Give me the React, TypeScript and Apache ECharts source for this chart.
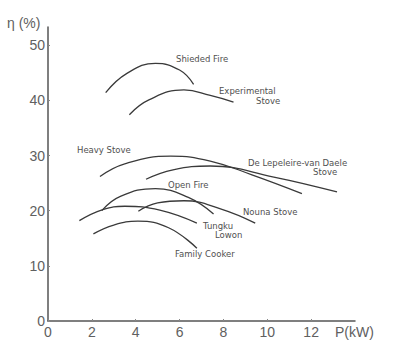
import React, { useEffect, useRef } from "react";
import * as echarts from "echarts";

// Efficiency η (%) versus power P (kW): [P, η]
const shieldedFire = [[2.63, 41.4], [3.6, 44.9], [4.9, 46.7], [6.0, 45.5], [6.64, 42.9]];
const experimentalStove = [[3.71, 37.4], [4.6, 40.1], [6.2, 41.9], [7.4, 40.9], [8.46, 39.7]];
const heavyStove = [[2.37, 26.2], [3.5, 28.5], [5.6, 29.9], [7.4, 29.0], [9.3, 26.5], [11.58, 23.1]];
const deLepeleireStove = [[4.47, 25.7], [5.7, 27.4], [7.4, 28.1], [10.3, 26.1], [13.18, 23.4]];
const openFire = [[2.45, 20.0], [3.3, 22.6], [4.9, 24.0], [6.4, 22.4], [7.55, 19.4]];
const tungkuLowon = [[1.43, 18.2], [2.5, 20.2], [3.5, 20.8], [5.1, 20.1], [6.79, 17.75]];
const nounaStove = [[4.12, 19.9], [5.0, 21.4], [6.2, 21.8], [7.9, 20.3], [9.45, 17.75]];
const familyCooker = [[2.07, 15.8], [3.0, 17.4], [4.1, 18.1], [5.5, 16.9], [6.79, 13.2]];

const xTicks = [0, 2, 4, 6, 8, 10, 12];
const yTicks = [0, 10, 20, 30, 40, 50];

const curves = [shieldedFire, experimentalStove, heavyStove, deLepeleireStove, openFire, tungkuLowon, nounaStove, familyCooker];

const LABEL_FONT = '8.5px "DejaVu Sans", sans-serif';
const AXIS_FAMILY = '"Liberation Sans", Arial, sans-serif';
const AXIS_FONT = '14px "Liberation Sans", Arial, sans-serif';
const INK = "#3a3a3a";

const curveLabels: [string, number, number][] = [
  ["Shieded Fire", 176, 59],
  ["Experimental", 219, 91],
  ["Stove", 256, 101],
  ["Heavy Stove", 77, 150],
  ["De Lepeleire-van Daele", 248, 163],
  ["Stove", 313, 172],
  ["Open Fire", 168, 185],
  ["Nouna Stove", 243, 212],
  ["Tungku", 203, 226],
  ["Lowon", 215, 235],
  ["Family Cooker", 175, 254],
];

export default function App() {
  const ref = useRef<HTMLDivElement>(null);
  useEffect(() => {
    if (!ref.current) return;
    const chart = echarts.init(ref.current, null, { renderer: "svg" });
    chart.setOption({
      animation: false,
      backgroundColor: "#fff",
      grid: { left: 48, right: 45, top: 27, bottom: 34 },
      xAxis: {
        type: "value",
        min: 0,
        max: 14,
        interval: 2,
        axisLine: { lineStyle: { color: "#555", width: 1.5 } },
        axisTick: { show: true, inside: true, length: 2, customValues: xTicks, lineStyle: { color: "#888" } },
        axisLabel: { customValues: xTicks, margin: 4, color: "#606060", fontSize: 14, fontFamily: AXIS_FAMILY },
        splitLine: { show: false },
      },
      yAxis: {
        type: "value",
        min: 0,
        max: 53.3,
        interval: 10,
        axisLine: { show: true, lineStyle: { color: "#555", width: 1.5 } },
        axisTick: { show: true, inside: true, length: 2, customValues: yTicks, lineStyle: { color: "#888" } },
        axisLabel: { customValues: yTicks, margin: 3, color: "#606060", fontSize: 14, fontFamily: AXIS_FAMILY },
        splitLine: { show: false },
      },
      series: curves.map((d) => ({
        type: "line",
        data: d,
        smooth: 0.45,
        showSymbol: false,
        lineStyle: { color: INK, width: 1.3 },
      })),
      graphic: [
        ...curveLabels.map(([t, x, y]) => ({
          type: "text",
          x,
          y,
          style: { text: t, font: LABEL_FONT, fill: "#505050", textVerticalAlign: "middle" },
        })),
        { type: "text", x: 7, y: 23, style: { text: "η (%)", font: AXIS_FONT, fill: "#606060", textVerticalAlign: "middle" } },
        { type: "text", x: 335, y: 332, style: { text: "P(kW)", font: AXIS_FONT, fill: "#606060", textVerticalAlign: "middle" } },
      ],
    });
    return () => chart.dispose();
  }, []);
  return <div ref={ref} style={{ width: 400, height: 355, position: "absolute", left: 0, top: 0 }} />;
}
